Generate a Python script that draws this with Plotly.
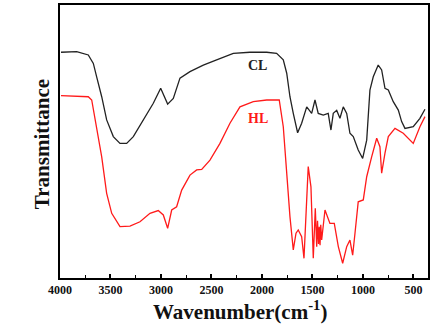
import plotly.graph_objects as go

# CL spectrum (wavenumber cm^-1, transmittance a.u.)
cl_wn = [3990, 3835, 3720, 3670, 3637, 3587, 3538, 3472, 3406, 3340, 3274, 3175, 3076, 3003,
         2934, 2878, 2812, 2713, 2581, 2449, 2284, 2119, 1953, 1855, 1789, 1755, 1723, 1690,
         1647, 1607, 1557, 1508, 1475, 1443, 1393, 1344, 1317, 1294, 1260, 1228, 1195, 1161,
         1129, 1096, 1047, 1003, 963, 931, 898, 849, 815, 782, 749, 700, 650, 617, 584, 502,
         436, 386]
cl_t = [82.7, 82.9, 81.7, 78.6, 73.7, 66.4, 57.9, 51.8, 49.3, 49.3, 51.8, 57.9, 64.0, 69.5,
        63.7, 65.8, 73.2, 75.6, 78.0, 79.9, 82.3, 82.7, 82.7, 82.3, 79.9, 75.0, 66.4, 60.3,
        53.2, 56.7, 62.7, 60.3, 65.2, 60.3, 59.7, 60.3, 54.2, 60.3, 61.4, 58.5, 62.7, 60.3,
        53.0, 51.8, 46.9, 43.8, 50.5, 68.8, 73.7, 78.0, 76.2, 69.5, 68.9, 64.6, 61.5, 57.3,
        54.8, 55.4, 58.5, 61.8]

# HL spectrum
hl_wn = [3990, 3720, 3686, 3637, 3587, 3538, 3488, 3406, 3307, 3208, 3109, 3027, 2977, 2934,
         2894, 2845, 2795, 2713, 2647, 2597, 2515, 2416, 2317, 2218, 2086, 1953, 1829, 1789,
         1750, 1723, 1690, 1663, 1641, 1607, 1584, 1564, 1542, 1515, 1492, 1472, 1458, 1450,
         1440, 1433, 1425, 1418, 1409, 1376, 1327, 1284, 1244, 1201, 1161, 1129, 1102, 1079,
         1047, 997, 963, 914, 864, 832, 815, 782, 749, 683, 601, 502, 436, 386]
hl_t = [66.8, 66.4, 65.2, 55.4, 44.4, 31.0, 23.7, 18.8, 19.0, 20.6, 23.7, 24.7, 23.1, 18.2,
        24.9, 26.1, 32.2, 37.7, 39.6, 39.8, 43.2, 49.3, 56.7, 62.7, 64.6, 65.2, 65.2, 55.4,
        34.7, 22.5, 10.3, 16.4, 17.6, 15.1, 7.2, 22.5, 40.8, 33.4, 7.2, 25.5, 11.5, 21.0,
        12.5, 18.8, 12.0, 19.5, 13.9, 24.9, 20.0, 20.0, 11.5, 5.4, 11.5, 13.9, 8.4, 16.4,
        27.9, 28.6, 37.1, 44.4, 51.2, 48.1, 38.4, 45.7, 51.8, 54.8, 53.0, 49.3, 55.4, 59.1]

x_ticks = [4000, 3500, 3000, 2500, 2000, 1500, 1000, 500]

serif = "Times New Roman, Liberation Serif, serif"

fig = go.Figure()
fig.add_trace(go.Scatter(x=cl_wn, y=cl_t, mode="lines", name="CL",
                         line=dict(color="#222222", width=1.3)))
fig.add_trace(go.Scatter(x=hl_wn, y=hl_t, mode="lines", name="HL",
                         line=dict(color="#ff1a1a", width=1.3)))

fig.add_annotation(x=2040, y=78.0, text="<b>CL</b>", showarrow=False,
                   font=dict(family=serif, size=14, color="#222222"))
fig.add_annotation(x=2040, y=58.6, text="<b>HL</b>", showarrow=False,
                   font=dict(family=serif, size=14, color="#ff1a1a"))

# axis titles placed as paper annotations
fig.add_annotation(xref="paper", yref="paper", x=0.49, y=0, yshift=-32,
                   yanchor="middle", xanchor="center", showarrow=False,
                   text="<b>Wavenumber(cm<sup>-1</sup>)</b>",
                   font=dict(family=serif, size=21, color="#111111"))
fig.add_annotation(xref="paper", yref="paper", x=0, xshift=-18, y=0.49,
                   xanchor="center", yanchor="middle", showarrow=False, textangle=-90,
                   text="<b>Transmittance</b>",
                   font=dict(family=serif, size=21, color="#111111"))

fig.update_layout(
    width=440, height=327,
    margin=dict(l=60, r=12, t=5, b=49, autoexpand=False),
    paper_bgcolor="white", plot_bgcolor="white",
    showlegend=False,
    font=dict(family=serif, color="#111111"),
)
fig.update_xaxes(
    range=[4000, 356], tickvals=x_ticks, ticktext=[f"<b>{v}</b>" for v in x_ticks],
    ticks="inside", ticklen=4, tickwidth=1.5, tickcolor="black",
    minor=dict(ticks="inside", ticklen=3, dtick=250, tickcolor="black", tickwidth=1.2),
    showline=True, linecolor="black", linewidth=2, mirror=True,
    showgrid=False, zeroline=False, automargin=False,
    tickfont=dict(family=serif, size=12, color="#111111"),
)
fig.update_yaxes(
    range=[0, 100], showticklabels=False, ticks="",
    showline=True, linecolor="black", linewidth=2, mirror=True,
    showgrid=False, zeroline=False, automargin=False,
)

fig.write_html("out.html", config={"displayModeBar": False},
               post_script="document.body.style.margin='0';")
